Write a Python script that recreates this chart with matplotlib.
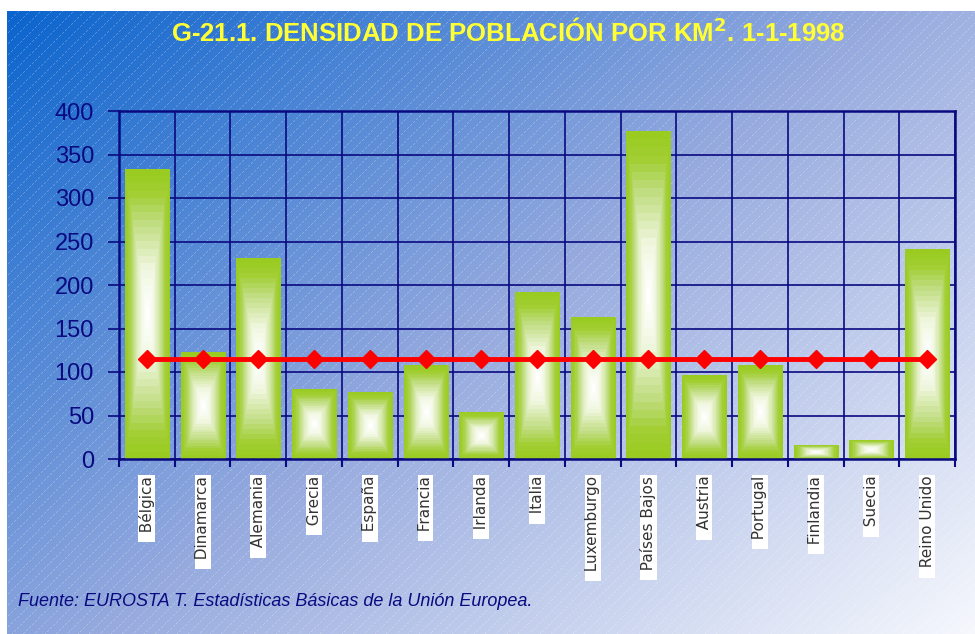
import numpy as np
import matplotlib
matplotlib.use("Agg")
import matplotlib.pyplot as plt
from matplotlib.colors import LinearSegmentedColormap

paises = ["Bélgica", "Dinamarca", "Alemania", "Grecia", "España", "Francia",
          "Irlanda", "Italia", "Luxemburgo", "Países Bajos", "Austria",
          "Portugal", "Finlandia", "Suecia", "Reino Unido"]
densidad = [333, 122, 230, 80, 77, 108, 53, 191, 163, 377, 96, 108, 16, 21, 241]
media_ue = [115] * len(paises)

W, H = 975, 634
fig = plt.figure(figsize=(W / 100, H / 100), dpi=100)
fig.patch.set_facecolor("white")

# fondo degradado con rayado diagonal
bw, bh = W - 7, H - 11
xx, yy = np.meshgrid(np.arange(bw), np.arange(bh))
s = 0.55 * xx / bw + 0.45 * yy / bh
stops = [0, 0.5, 1]
cols = np.array([[10, 100, 205], [150, 170, 222], [246, 248, 253]]) / 255
img = np.dstack([np.interp(s, stops, cols[:, k]) for k in range(3)])
mask = ((xx + yy) % 11 == 0) & (xx % 3 != 0)
img[mask] = img[mask] * 0.75 + 0.25
bg = fig.add_axes([7 / W, 0, bw / W, bh / H], zorder=-10)
bg.imshow(img, aspect="auto", interpolation="nearest")
bg.axis("off")

ax = fig.add_axes([119 / W, (H - 459) / H, (955 - 119) / W, (459 - 111) / H])
ax.patch.set_alpha(0)

navy = "#0a0a80"
cmap = LinearSegmentedColormap.from_list(
    "barra", [(0, "#ffffff"), (0.3, "#f0f7df"), (0.65, "#bedc7c"),
              (0.85, "#a2cf33"), (1, "#9acb20")], N=20)
u = np.linspace(-1, 1, 120)
uu, vv = np.meshgrid(u, u)
grad = np.maximum(np.abs(uu), np.abs(vv))
ancho = 0.79
for i, v in enumerate(densidad):
    ax.imshow(grad, cmap=cmap, vmin=0, vmax=1, aspect="auto",
              extent=(i - ancho / 2, i + ancho / 2, 0, v), zorder=3,
              interpolation="nearest")

x = np.arange(len(paises))
ax.plot(x, media_ue, color="red", lw=3.5, marker="D", ms=9, zorder=4)

ax.set_xlim(-0.5, len(paises) - 0.5)
ax.set_ylim(0, 400)
ax.set_yticks(range(0, 401, 50))
ax.set_xticks(x)
ax.set_xticks(np.arange(-0.5, len(paises), 1), minor=True)
ax.grid(True, which="major", axis="y", color=navy, lw=1.2, zorder=1)
ax.grid(True, which="minor", axis="x", color=navy, lw=1.2, zorder=1)
for sp in ax.spines.values():
    sp.set_color(navy)
    sp.set_linewidth(1.8)
    sp.set_zorder(5)

ax.tick_params(axis="y", colors=navy, labelsize=17, length=8, width=1.2,
               pad=10)
for lab in ax.get_yticklabels():
    lab.set_family("Liberation Sans")
ax.tick_params(axis="x", which="major", length=0, pad=12)
ax.tick_params(axis="x", which="minor", length=6, width=1.5, color=navy)
ax.set_xticklabels(["  " + p for p in paises], rotation=90, va="top",
                   ha="center", fontsize=11, color="#333333",
                   family="DejaVu Sans")
for lab in ax.get_xticklabels():
    lab.set_bbox(dict(facecolor="white", edgecolor="none", pad=0.3))

fig.text(508 / W, 1 - 33 / H,
         "G-21.1. DENSIDAD DE POBLACIÓN POR KM$^{\\mathbf{2}}$. 1-1-1998",
         ha="center", va="center", color="#ffff33", fontsize=18.5,
         fontweight="bold", family="Liberation Sans")
fig.text(18 / W, 1 - 601 / H,
         "Fuente: EUROSTA T. Estadísticas Básicas de la Unión Europea.",
         ha="left", va="center", color=navy, fontsize=13, style="italic",
         family="Liberation Sans")

fig.savefig("out.png", dpi=100)
